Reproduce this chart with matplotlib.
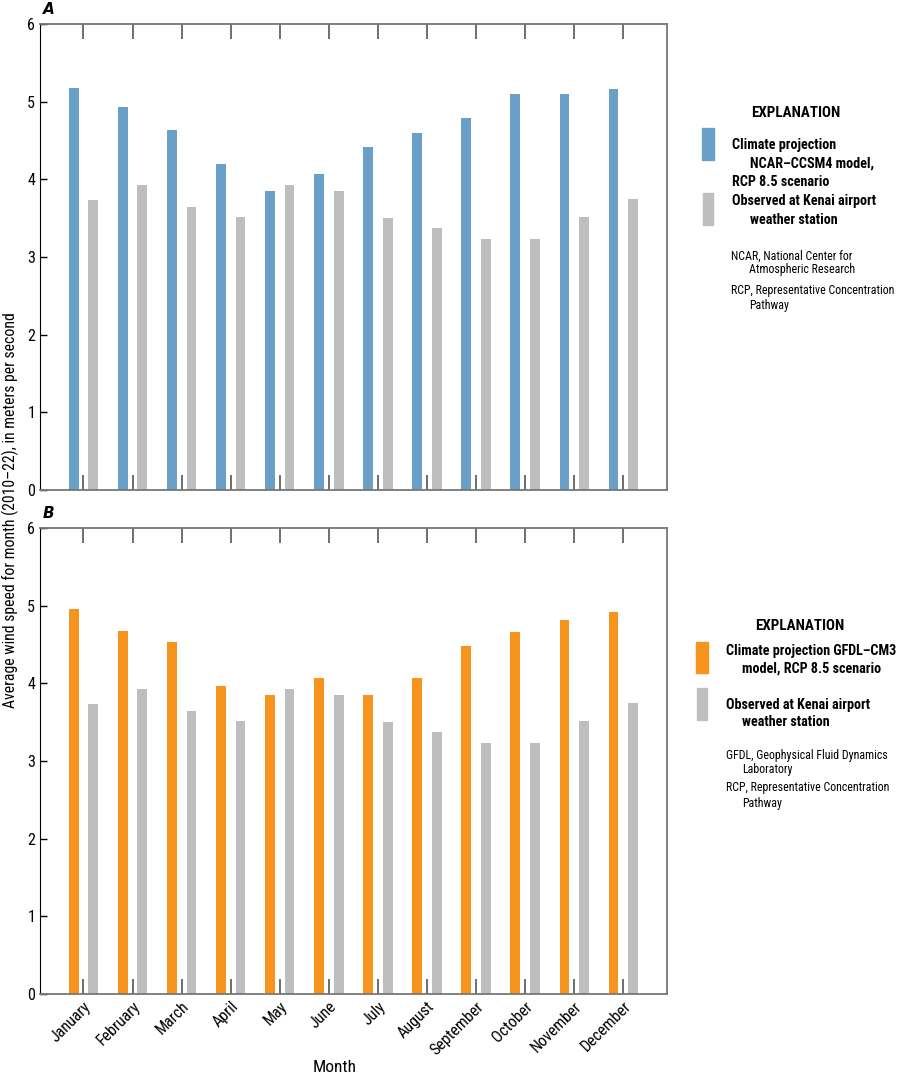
import numpy as np
import matplotlib
matplotlib.use('Agg')
import matplotlib.pyplot as plt
from matplotlib.patches import Rectangle
from matplotlib import font_manager

# 좁은 글꼴이 있으면 사용
names = set(f.name for f in font_manager.fontManager.ttflist)
narrow = None
for cand in ['Liberation Sans Narrow', 'DejaVu Sans Condensed', 'Roboto Condensed', 'Open Sans Condensed']:
    if cand in names:
        narrow = cand
        break
if narrow is None:
    narrow = 'Liberation Sans'
    scale = 0.85
else:
    scale = 1.0

plt.rcParams['font.family'] = [narrow, 'DejaVu Sans']
plt.rcParams['font.size'] = 10

# 데이터
months = ['January', 'February', 'March', 'April', 'May', 'June', 'July',
          'August', 'September', 'October', 'November', 'December']
ncar_ccsm4 = [5.17, 4.93, 4.63, 4.20, 3.85, 4.07, 4.42, 4.60, 4.79, 5.10, 5.10, 5.16]
gfdl_cm3 = [4.96, 4.68, 4.53, 3.97, 3.85, 4.07, 3.85, 4.07, 4.48, 4.66, 4.81, 4.92]
observed = [3.74, 3.93, 3.64, 3.51, 3.93, 3.85, 3.50, 3.37, 3.23, 3.23, 3.52, 3.75]

c_blue = '#6a9fc8'
c_orange = '#f7941d'
c_gray = '#bdbec0'
c_spine = '#777777'

W, H = 900, 1080
fig = plt.figure(figsize=(9, 10.8), dpi=100)

def fx(px):
    return px / W

def fy(py):
    return 1 - py / H

x = np.arange(len(months))


def draw_panel(rect, model, color, letter, show_xlabels):
    ax = fig.add_axes(rect)
    ax.bar(x - 0.2, model, width=0.2, color=color, edgecolor='none')
    ax.bar(x + 0.2, observed, width=0.2, color=c_gray, edgecolor='none')
    ax.set_xlim(-0.885, 11.89)
    ax.set_ylim(0, 6)
    ax.set_yticks(range(7))
    ax.set_xticks(x)
    ax.tick_params(axis='y', direction='in', length=5, width=1, labelsize=11.5 * scale)
    ax.tick_params(axis='x', direction='in', length=11, width=1.2, color='#555555',
                   top=True, labelsize=11.5 * scale)
    if show_xlabels:
        ax.set_xticklabels(months, rotation=45, ha='right', rotation_mode='anchor')
    else:
        ax.set_xticklabels([])
    ax.spines['left'].set_color('black')
    for s in ['top', 'bottom', 'right']:
        ax.spines[s].set_color(c_spine)
        ax.spines[s].set_linewidth(1.3)
    ax.text(0.005, 1.015, letter, transform=ax.transAxes, fontweight='bold',
            fontstyle='italic', fontsize=11, family='DejaVu Sans', va='bottom')
    return ax


axA = draw_panel([fx(40), fy(490), fx(667 - 40), (490 - 24) / H], ncar_ccsm4, c_blue, 'A', False)
axB = draw_panel([fx(40), fy(994), fx(667 - 40), (994 - 528) / H], gfdl_cm3, c_orange, 'B', True)

fig.text(fx(10), fy(510), 'Average wind speed for month (2010\u201322), in meters per second',
         rotation=90, ha='center', va='center', fontsize=11.3 * scale)
fig.text(fx(335), fy(1067), 'Month', ha='center', va='center', fontsize=12.5 * scale)


def swatch(x0, y0, x1, y1, color):
    fig.patches.append(Rectangle((fx(x0), fy(y1)), fx(x1 - x0), (y1 - y0) / H,
                                 transform=fig.transFigure, color=color))


def label(px, py, s, bold=True, size=10.2):
    fig.text(fx(px), fy(py), s, ha='left', va='center', fontsize=size * scale,
             fontweight='bold' if bold else 'normal')


# 설명 A
fig.text(fx(796), fy(113), 'EXPLANATION', ha='center', va='center', fontsize=10.8 * scale, fontweight='bold')
swatch(702, 128, 714, 160, c_blue)
label(732, 145, 'Climate projection')
label(750, 164, 'NCAR\u2013CCSM4 model,')
label(732, 182, 'RCP 8.5 scenario')
swatch(703, 193, 713, 225, c_gray)
label(732, 201, 'Observed at Kenai airport')
label(750, 220, 'weather station')
label(731, 256, 'NCAR, National Center for', False, 8.6)
label(749, 270, 'Atmospheric Research', False, 8.6)
label(731, 291, 'RCP, Representative Concentration', False, 8.6)
label(749, 305, 'Pathway', False, 8.6)

# 설명 B
fig.text(fx(800), fy(626), 'EXPLANATION', ha='center', va='center', fontsize=10.8 * scale, fontweight='bold')
swatch(696, 642, 708, 673, c_orange)
label(726, 651, 'Climate projection GFDL\u2013CM3')
label(742, 669, 'model, RCP 8.5 scenario')
swatch(697, 688, 707, 720, c_gray)
label(726, 705, 'Observed at Kenai airport')
label(742, 722, 'weather station')
label(726, 755, 'GFDL, Geophysical Fluid Dynamics', False, 8.6)
label(742, 770, 'Laboratory', False, 8.6)
label(726, 788, 'RCP, Representative Concentration', False, 8.6)
label(742, 803, 'Pathway', False, 8.6)

plt.savefig('out.png', dpi=100)
